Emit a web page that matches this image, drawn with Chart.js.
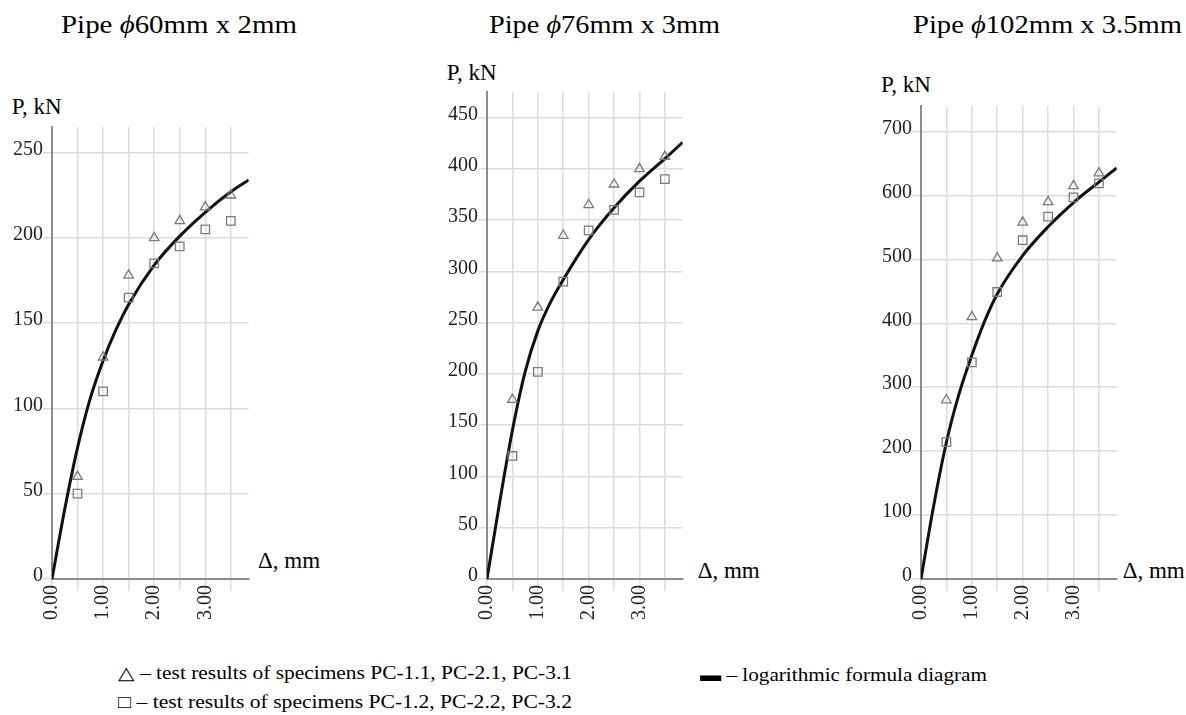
<!DOCTYPE html>
<html>
<head>
<meta charset="utf-8">
<script src="https://cdn.jsdelivr.net/npm/chart.js@4.4.0/dist/chart.umd.min.js"></script>
<style>
  html, body { margin:0; padding:0; }
  body { width:1186px; height:715px; background:#fff; position:relative; overflow:hidden;
         font-family:"Liberation Serif","Times New Roman",serif; color:#000; }
  .t { position:absolute; white-space:nowrap; line-height:1; transform-origin:0 50%; }
  canvas { position:absolute; }
</style>
</head>
<body>
<script>
// ---------------- DATA ----------------
const testDelta = [0.5, 1.0, 1.5, 2.0, 2.5, 3.0, 3.5];

const pipe60Triangles  = [60, 130, 178, 200, 210, 218, 225];
const pipe60Squares    = [50, 110, 165, 185, 195, 205, 210];
const pipe76Triangles  = [175, 265, 335, 365, 385, 400, 412];
const pipe76Squares    = [120, 202, 290, 340, 360, 377, 390];
const pipe102Triangles = [280, 410, 502, 558, 590, 615, 635];
const pipe102Squares   = [214, 339, 449, 530, 567, 597, 619];

const curveDelta   = [0, 0.25, 0.5, 0.75, 1.0, 1.25, 1.5, 2.0, 2.5, 3.0, 3.5, 3.85];
const pipe60Curve  = [0, 41, 77, 106, 128, 146, 161, 184, 201, 215, 227, 234];
const pipe76Curve  = [0, 75, 145, 202, 242, 270, 292, 331, 362, 388, 410, 426];
const pipe102Curve = [0, 115, 214, 290, 350, 403, 446, 506, 551, 589, 621, 643];

const xTickValues = [0, 0.5, 1.0, 1.5, 2.0, 2.5, 3.0, 3.5];
const xTickLabels = ['0.00', '', '1.00', '', '2.00', '', '3.00', ''];
const pipe60YTicks  = [0, 50, 100, 150, 200, 250];
const pipe76YTicks  = [0, 50, 100, 150, 200, 250, 300, 350, 400, 450];
const pipe102YTicks = [0, 100, 200, 300, 400, 500, 600, 700];

const chartTitles = [['Pipe ', '\u03D5', '60mm x 2mm'], ['Pipe ', '\u03D5', '76mm x 3mm'], ['Pipe ', '\u03D5', '102mm x 3.5mm']];
const yAxisTitle = 'P, kN';
const xAxisTitle = '\u0394, mm';
const legendTriangle = '\u25B3 \u2013 test results of specimens PC-1.1, PC-2.1, PC-3.1';
const legendSquare   = '\u25A1 \u2013 test results of specimens PC-1.2, PC-2.2, PC-3.2';
const legendLine     = '\u25AC \u2013 logarithmic formula diagram';

// ---------------- LAYOUT ----------------
const AXIS_Y = 579;
const X_MAX = 3.85;
const panels = [
  { title: chartTitles[0], tri: pipe60Triangles, sq: pipe60Squares, curve: pipe60Curve, yTicks: pipe60YTicks, yMax: 265,
    left: 52.3, right: 250, top: 126.7, titleX: 61, titleW: 236, pX: 11.7, pY: 94.5, dX: 258, dY: 549 },
  { title: chartTitles[1], tri: pipe76Triangles, sq: pipe76Squares, curve: pipe76Curve, yTicks: pipe76YTicks, yMax: 475,
    left: 486.7, right: 684, top: 92.3, titleX: 489, titleW: 231, pX: 446.7, pY: 61.3, dX: 697.7, dY: 559 },
  { title: chartTitles[2], tri: pipe102Triangles, sq: pipe102Squares, curve: pipe102Curve, yTicks: pipe102YTicks, yMax: 740,
    left: 921, right: 1118, top: 105.7, titleX: 913, titleW: 269, pX: 881, pY: 73, dX: 1122.7, dY: 559 }
];

function addText(parts, x, y, size, fitW) {
  const el = document.createElement('div');
  el.className = 't';
  if (Array.isArray(parts)) {
    parts.forEach((s, i) => {
      const sp = document.createElement(i === 1 ? 'i' : 'span');
      sp.textContent = s;
      el.appendChild(sp);
    });
  } else {
    el.textContent = parts;
  }
  el.style.left = x + 'px';
  el.style.top = y + 'px';
  el.style.fontSize = size + 'px';
  document.body.appendChild(el);
  if (fitW) {
    const w = el.getBoundingClientRect().width;
    el.style.transform = 'scaleX(' + (fitW / w) + ')';
  }
  return el;
}

const tickFont = { family: '"Liberation Serif", "Times New Roman", serif', size: 20 };
const gridColor = '#dcdcdc';
const axisColor = '#8c8c8c';

panels.forEach(p => {
  addText(p.title, p.titleX, 12, 26, p.titleW);
  addText(yAxisTitle, p.pX, p.pY, 23);
  addText(xAxisTitle, p.dX, p.dY, 23);

  const yAxisW = 48, padTop = 14, padRight = 6, xAxisH = 50;
  const areaW = p.right - p.left, areaH = AXIS_Y - p.top;
  const canvas = document.createElement('canvas');
  canvas.width = Math.round(yAxisW + areaW + padRight);
  canvas.height = Math.round(padTop + areaH + xAxisH);
  canvas.style.width = canvas.width + 'px';
  canvas.style.height = canvas.height + 'px';
  canvas.style.left = (p.left - yAxisW) + 'px';
  canvas.style.top = (p.top - padTop) + 'px';
  document.body.appendChild(canvas);

  const chart = new Chart(canvas, {
    type: 'line',
    data: {
      datasets: [
        { label: 'tri', data: testDelta.map((d, i) => ({ x: d, y: p.tri[i] })), showLine: false,
          pointStyle: 'triangle', pointRadius: 5.5, borderColor: '#7a7a7a', backgroundColor: 'rgba(255,255,255,0)', pointBorderWidth: 1.3 },
        { label: 'sq', data: testDelta.map((d, i) => ({ x: d, y: p.sq[i] })), showLine: false,
          pointStyle: 'rect', pointRadius: 6, borderColor: '#7a7a7a', backgroundColor: 'rgba(255,255,255,0)', pointBorderWidth: 1.3 },
        { label: 'curve', data: curveDelta.map((d, i) => ({ x: d, y: p.curve[i] })), showLine: true,
          borderColor: '#111', borderWidth: 3, pointRadius: 0, fill: false, cubicInterpolationMode: 'monotone' }
      ]
    },
    options: {
      responsive: false, animation: false, devicePixelRatio: 1,
      layout: { padding: { top: padTop, right: padRight, left: 0, bottom: 0 } },
      plugins: { legend: { display: false }, tooltip: { enabled: false } },
      scales: {
        x: {
          type: 'linear', min: 0, max: X_MAX,
          afterBuildTicks: s => { s.ticks = xTickValues.map(v => ({ value: v })); },
          afterFit: s => { s.height = xAxisH; },
          ticks: { autoSkip: false, minRotation: 90, maxRotation: 90, padding: -6, color: '#222', font: tickFont,
                   callback: (v, i) => xTickLabels[i] },
          grid: { color: gridColor, lineWidth: 1.5, tickLength: 12, drawTicks: true },
          border: { color: axisColor, width: 2 }
        },
        y: {
          type: 'linear', min: 0, max: p.yMax,
          afterBuildTicks: s => { s.ticks = p.yTicks.map(v => ({ value: v })); },
          afterFit: s => { s.width = yAxisW; },
          ticks: { padding: 0, labelOffset: -3, color: '#222', font: tickFont, callback: v => String(v) },
          grid: { color: gridColor, lineWidth: 1.5, tickLength: 9, drawTicks: true },
          border: { color: axisColor, width: 2 }
        }
      }
    }
  });
  const ca = chart.chartArea;
  canvas.style.left = (p.left - ca.left) + 'px';
  canvas.style.top = (p.top - ca.top) + 'px';
});

// ---------------- LEGEND ----------------
addText(legendTriangle, 118, 664, 18, 454);
addText(legendSquare, 118, 693, 18, 454);
addText(legendLine, 700, 666, 18, 287);
</script>
</body>
</html>
